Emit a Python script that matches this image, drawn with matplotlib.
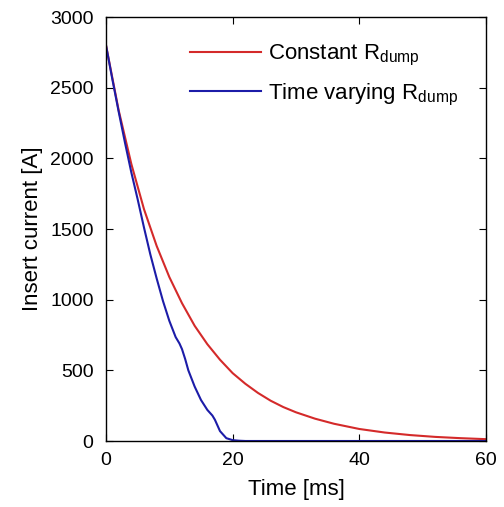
import matplotlib.pyplot as plt

plt.rcParams['font.family'] = ['Liberation Sans', 'DejaVu Sans']

t_const = [0, 2, 4, 6, 8, 10, 12, 14, 16, 18, 20, 22, 24, 26, 28, 30,
           33, 36, 40, 44, 48, 52, 56, 60]
i_const = [2800, 2340, 1960, 1640, 1380, 1160, 975, 815, 685, 575, 480, 405,
           340, 285, 240, 203, 158, 122, 85, 60, 42, 29, 20, 13]

t_vary = [0, 1, 2, 3, 4, 5, 6, 7, 8, 9, 10, 11, 11.6, 12, 12.5, 13, 14, 15,
          16, 16.8, 17.2, 18, 19, 20, 21, 22, 60]
i_vary = [2800, 2560, 2330, 2110, 1900, 1710, 1510, 1320, 1150, 990, 850,
          735, 690, 650, 580, 500, 385, 290, 220, 180, 150, 70, 20, 6, 2, 0, 0]

fig = plt.figure(figsize=(5.04, 5.07), dpi=100)
ax = fig.add_axes([106 / 504, 1 - 441 / 507, 380 / 504, 424 / 507])

ax.plot(t_const, i_const, color='#d42a2a', lw=1.5,
        label=r'Constant $\mathregular{R_{dump}}$')
ax.plot(t_vary, i_vary, color='#1c1ca8', lw=1.5,
        label=r'Time varying $\mathregular{R_{dump}}$')

ax.set_xlim(0, 60)
ax.set_ylim(0, 3000)
ax.set_xticks([0, 20, 40, 60])
ax.set_yticks([0, 500, 1000, 1500, 2000, 2500, 3000])
ax.tick_params(direction='in', top=True, right=True, labelsize=14, length=5)
ax.tick_params(axis='y', pad=9)
ax.tick_params(axis='x', pad=8)
ax.set_xlabel('Time [ms]', fontsize=16, labelpad=7)
ax.set_ylabel('Insert current [A]', fontsize=16, labelpad=5)
for s in ax.spines.values():
    s.set_linewidth(1.0)

ax.legend(loc='upper left', bbox_to_anchor=(0.221, 0.938), frameon=False,
          fontsize=16, handlelength=3.2, handletextpad=0.3, labelspacing=0.6,
          borderpad=0, borderaxespad=0)

fig.savefig('out.png', dpi=100)
